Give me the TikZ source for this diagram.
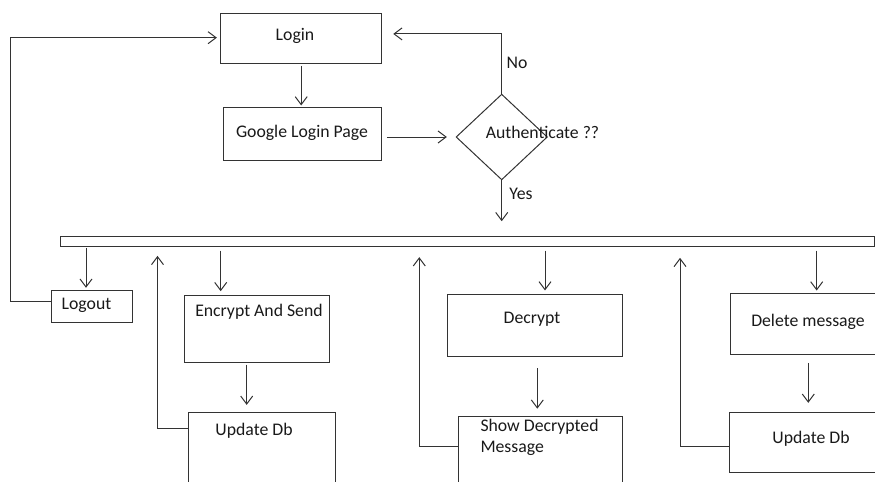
\documentclass[tikz,border=0pt]{standalone}
\usepackage{fontspec}
\setmainfont{Carlito}
\usetikzlibrary{arrows.meta,shapes.geometric,fit}
\begin{document}
\begin{tikzpicture}[x=0.75pt,y=-0.75pt,
  line width=0.75pt,
  box/.style={draw=black!80, inner sep=0pt, rectangle},
  txt/.style={inner sep=0pt, anchor=base, text=black!90, font=\fontsize{13.3}{15.75}\selectfont},
  arr/.style={draw=black!80, -{Straight Barb[length=6pt,width=9pt]}}]
\useasboundingbox (0,0) rectangle (875,482);
\clip (0,0) rectangle (875,482);

% boxes
\node[box, fit={(220.7,13.3) (381.7,63.3)}] (login) {};
\node[box, fit={(223.3,107.3) (381.7,160)}] (google) {};
\node[draw=black!80, diamond, inner sep=0pt, minimum width=68.5pt, minimum height=64.3pt] (auth) at (501.7,137) {};
\node[box, fit={(60,236) (874.3,246)}] (bar) {};
\node[box, fit={(51.3,290.3) (132,322.3)}] (logout) {};
\node[box, fit={(184.3,295.7) (329.3,362.3)}] (encrypt) {};
\node[box, fit={(188.3,412.7) (335,500)}] (update1) {};
\node[box, fit={(447.7,294) (622.3,356.7)}] (decrypt) {};
\node[box, fit={(458.3,416.7) (622.3,500)}] (show) {};
\node[box, fit={(730,293.3) (890,354.3)}] (delete) {};
\node[box, fit={(729,412) (890,472.3)}] (update2) {};

% texts
\node[txt] (loginT) at (295,40.3) {Login};
\node[txt] (googleT) at (302,137) {Google Login Page};
\node[txt] (authT) at (542.5,138) {Authenticate ??};
\node[txt] (noT) at (517,68) {No};
\node[txt] (yesT) at (521,199) {Yes};
\node[txt] (logoutT) at (86.5,309) {Logout};
\node[txt] (encryptT) at (259,316) {Encrypt And Send};
\node[txt] (update1T) at (254,435.7) {Update Db};
\node[txt] (decryptT) at (532,323) {Decrypt};
\node[txt, anchor=base west, align=left] (showT) at (480,452.7) {Show Decrypted\\Message};
\node[txt] (deleteT) at (808,326) {Delete message};
\node[txt] (update2T) at (811,443) {Update Db};

% column positions of the vertical connectors
\coordinate (cLogout) at (86,0);
\coordinate (cEncrypt) at (220.7,0);
\coordinate (cUpd1) at (246.7,0);
\coordinate (cDecrypt) at (545,0);
\coordinate (cShow) at (537.3,0);
\coordinate (cDelete) at (816.7,0);
\coordinate (cUpd2) at (808.3,0);
\coordinate (rLeft) at (10.7,37.7);
\coordinate (r1) at (157.5,0);
\coordinate (r2) at (419.3,0);
\coordinate (r3) at (680,0);

% top flow
\draw[arr, shorten <=1.5pt, shorten >=1pt] (login.south) -- (login.south |- google.north);
\draw[arr, shorten <=3.5pt, shorten >=6.5pt] (google.east |- auth.west) -- (auth.west);
\draw[arr, shorten >=8.3pt] (auth.north) |- ([yshift=3.3pt]login.east);
\draw[arr, shorten >=10.7pt] (auth.south) -- (auth.south |- bar.north);

% logout back to login
\draw[arr, shorten >=2.5pt] ([yshift=3.3pt]logout.west) -| (rLeft) -- (login.west |- rLeft);

% from the bar down to the actions
\draw[arr, shorten <=1pt, shorten >=1.5pt] (bar.south -| cLogout) -- (logout.north -| cLogout);
\draw[arr, shorten <=3pt, shorten >=3pt] (bar.south -| cEncrypt) -- (encrypt.north -| cEncrypt);
\draw[arr, shorten <=3pt, shorten >=2.3pt] (bar.south -| cDecrypt) -- (decrypt.north -| cDecrypt);
\draw[arr, shorten <=3pt, shorten >=1.7pt] (bar.south -| cDelete) -- (delete.north -| cDelete);

% second steps
\draw[arr, shorten <=1.3pt, shorten >=5.5pt] (encrypt.south -| cUpd1) -- (update1.north -| cUpd1);
\draw[arr, shorten <=8.3pt, shorten >=5.6pt] (decrypt.south -| cShow) -- (show.north -| cShow);
\draw[arr, shorten <=6pt, shorten >=6.5pt] (delete.south -| cUpd2) -- (update2.north -| cUpd2);

% returns to the bar
\draw[arr, shorten >=7pt] ([yshift=-12.5pt]update1.north west) -| (r1 |- bar.south);
\draw[arr, shorten >=8pt] ([yshift=-23pt]show.north west) -| (r2 |- bar.south);
\draw[arr, shorten >=8.5pt] ([yshift=-26.5pt]update2.north west) -| (r3 |- bar.south);
\end{tikzpicture}
\end{document}
